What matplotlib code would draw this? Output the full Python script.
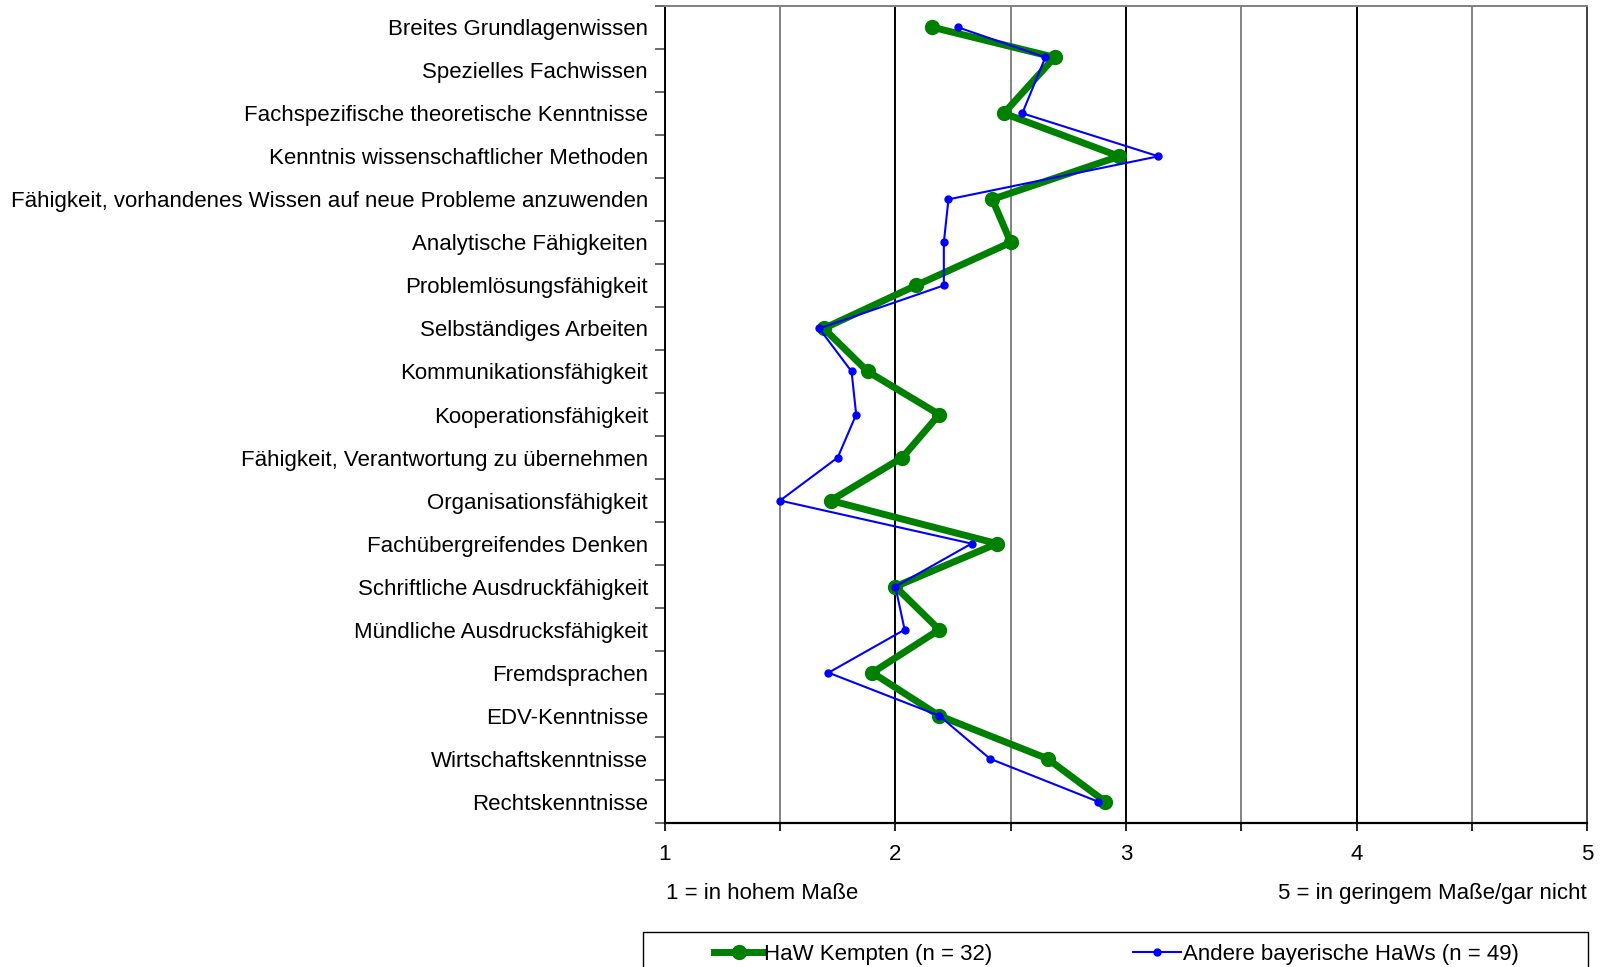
import matplotlib
matplotlib.use("Agg")
import matplotlib.pyplot as plt
from matplotlib.patches import Rectangle

plt.rcParams["font.family"] = ["Liberation Sans", "DejaVu Sans"]

categories = [
    "Breites Grundlagenwissen",
    "Spezielles Fachwissen",
    "Fachspezifische theoretische Kenntnisse",
    "Kenntnis wissenschaftlicher Methoden",
    "Fähigkeit, vorhandenes Wissen auf neue Probleme anzuwenden",
    "Analytische Fähigkeiten",
    "Problemlösungsfähigkeit",
    "Selbständiges Arbeiten",
    "Kommunikationsfähigkeit",
    "Kooperationsfähigkeit",
    "Fähigkeit, Verantwortung zu übernehmen",
    "Organisationsfähigkeit",
    "Fachübergreifendes Denken",
    "Schriftliche Ausdruckfähigkeit",
    "Mündliche Ausdrucksfähigkeit",
    "Fremdsprachen",
    "EDV-Kenntnisse",
    "Wirtschaftskenntnisse",
    "Rechtskenntnisse",
]

# row position of each point (the original has the 2nd point drawn a bit high)
row_pos = [0, 0.7, 2, 3, 4, 5, 6, 7, 8, 9, 10, 11, 12, 13, 14, 15, 16, 17, 18]

kempten = [2.16, 2.69, 2.47, 2.97, 2.42, 2.50, 2.09, 1.69, 1.88, 2.19,
           2.03, 1.72, 2.44, 2.00, 2.19, 1.90, 2.19, 2.66, 2.91]
andere = [2.27, 2.65, 2.55, 3.14, 2.23, 2.21, 2.21, 1.67, 1.81, 1.83,
          1.75, 1.50, 2.33, 2.00, 2.04, 1.71, 2.19, 2.41, 2.88]

x_ticks = [1, 2, 3, 4, 5]
label_low = "1 = in hohem Maße"
label_high = "5 = in geringem Maße/gar nicht"
series_names = ["HaW Kempten (n = 32)", "Andere bayerische HaWs (n = 49)"]

fig = plt.figure(figsize=(16.04, 9.67), dpi=100)
ax = fig.add_axes([0.4144, 0.1486, 0.5753, 0.8455])

fs = 16
n = len(categories)

# grid
for v in [1.5, 2.5, 3.5, 4.5]:
    ax.axvline(v, color="#606060", lw=1.1, zorder=0)
for v in [2, 3, 4]:
    ax.axvline(v, color="black", lw=1.4, zorder=0)

ax.plot(kempten, row_pos, color="#008000", lw=5, marker="o", ms=10,
        label=series_names[0], zorder=3)
ax.plot(andere, row_pos, color="#0000FF", lw=1.5, marker="o", ms=5,
        label=series_names[1], zorder=4)

ax.set_xlim(1, 5)
ax.set_ylim(n - 0.5, -0.5)

ax.set_xticks([1, 1.5, 2, 2.5, 3, 3.5, 4, 4.5, 5])
ax.set_xticklabels([str(t) if t in x_ticks else "" for t in
                    [1, 1.5, 2, 2.5, 3, 3.5, 4, 4.5, 5]], fontsize=fs)
ax.tick_params(axis="x", direction="out", length=6, width=1.2, pad=9)

ax.set_yticks([i - 0.5 for i in range(n + 1)])
ax.set_yticklabels([])
ax.set_yticks(range(n), minor=True)
ax.set_yticklabels(categories, minor=True, fontsize=fs)
ax.tick_params(axis="y", which="major", direction="out", length=7,
               width=1.2, color="#505050")
ax.tick_params(axis="y", which="minor", length=0, pad=12)

ax.spines["left"].set_linewidth(1.4)
ax.spines["bottom"].set_linewidth(1.6)
ax.spines["top"].set_color("#808080")
ax.spines["top"].set_linewidth(1.4)
ax.spines["right"].set_color("#404040")
ax.spines["right"].set_linewidth(1.4)

fig.text(0.4155, 0.0765, label_low, fontsize=fs, ha="left", va="center")
fig.text(0.9895, 0.0765, label_high, fontsize=fs, ha="right", va="center")

# legend box (runs off the bottom edge like the original)
fig.patches.append(Rectangle((0.401, -0.05), 0.589, 0.086,
                             transform=fig.transFigure, fill=False,
                             edgecolor="black", lw=1.0))
fig.legend(loc="center", bbox_to_anchor=(0.696, 0.0134), ncol=2,
           frameon=False, fontsize=fs, handlelength=2.2,
           handletextpad=0.05, columnspacing=6.3, borderpad=0)

fig.savefig("out.png", dpi=100)
